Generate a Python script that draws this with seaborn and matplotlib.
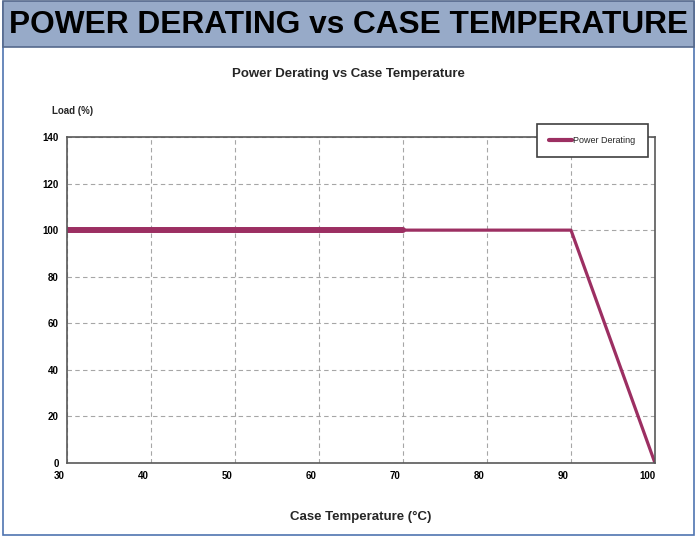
import matplotlib
matplotlib.use("Agg")
import matplotlib.pyplot as plt
import matplotlib.transforms as mtransforms
from matplotlib.patches import Rectangle
import seaborn as sns
import pandas as pd

####Data
temps = [30, 70, 90, 100]
load = [100, 100, 100, 0]
x_ticks = [30, 40, 50, 60, 70, 80, 90, 100]
y_ticks = [0, 20, 40, 60, 80, 100, 120, 140]

header = "POWER DERATING vs CASE TEMPERATURE"
title = "Power Derating vs Case Temperature"
series = "Power Derating"

line_col = "#9C2F62"
spine_col = "#595959"

sns.set_theme(style="white")
plt.rcParams['font.family'] = ['Liberation Sans', 'DejaVu Sans']

df = pd.DataFrame({"temp": temps, "load": load})

fig = plt.figure(figsize=(6.97, 5.37), dpi=100)

####Outer panel border and header band
fig.patches.append(Rectangle((0.004, 0.003), 0.992, 0.993, transform=fig.transFigure,
                             fill=False, edgecolor="#4F74B0", lw=1.2))
fig.patches.append(Rectangle((0.004, 0.913), 0.992, 0.085, transform=fig.transFigure,
                             facecolor="#97AAC8", edgecolor="#55698C", lw=1.2))
fig.text(0.5, 0.953, header, ha="center", va="center", fontsize=22.8, fontweight="bold",
         color="black")

ax = fig.add_axes([0.0961, 0.1378, 0.8436, 0.6071])

sns.lineplot(data=df, x="temp", y="load", ax=ax, color=line_col, lw=2.3, label=series)
# heavier first segment as in the source chart
sns.lineplot(data=df.iloc[:2], x="temp", y="load", ax=ax, color=line_col, lw=4.3, legend=False)

ax.set_xlim(30, 100)
ax.set_ylim(0, 140)
ax.set_xticks(x_ticks)
ax.set_yticks(y_ticks)
ax.grid(True, color="#A6A6A6", ls=(0, (4, 3)), lw=0.8)
for s in ax.spines.values():
    s.set_color(spine_col)
    s.set_linewidth(1.2)
ax.tick_params(axis="both", labelsize=7, length=0, pad=6, colors="black")

# x labels sit slightly left of their gridlines in the original
off = mtransforms.ScaledTranslation(-8 / 100, 0, fig.dpi_scale_trans)
for lab in ax.get_xticklabels():
    lab.set_transform(lab.get_transform() + off)
    lab.set_fontweight("bold")
for lab in ax.get_yticklabels():
    lab.set_fontweight("bold")

ax.set_xlabel("Case Temperature (\u00b0C)", fontsize=9.5, fontweight="bold", labelpad=21)
ax.set_ylabel("")
fig.text(0.075, 0.793, "Load (%)", fontsize=7, fontweight="bold", ha="left", va="center")
fig.text(0.5, 0.863, title, fontsize=9.5, fontweight="bold", ha="center", va="center")

leg = ax.legend(loc="upper right", bbox_to_anchor=(0.995, 1.055), fontsize=6.5, frameon=True,
                fancybox=False, handlelength=2.6, handletextpad=0.1, borderpad=1.35)
leg.get_frame().set_edgecolor("#404040")
leg.get_frame().set_linewidth(1.2)
leg.get_frame().set_alpha(1)
for h in leg.get_lines():
    h.set_linewidth(3)

fig.savefig("out.png", dpi=100)
